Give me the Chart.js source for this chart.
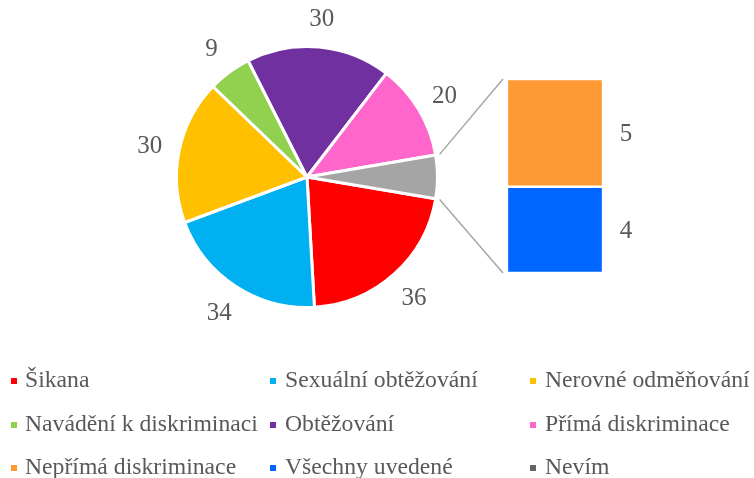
<!DOCTYPE html>
<html>
<head>
<meta charset="utf-8">
<script src="https://cdn.jsdelivr.net/npm/chart.js@4/dist/chart.umd.min.js"></script>
<style>
  body { margin:0; background:#fff; }
  #wrap { position:relative; width:754px; height:478px; overflow:hidden; font-family:"Liberation Serif","Times New Roman",serif; }
  #pie { position:absolute; left:0; top:0; }
  #bar { position:absolute; left:497px; top:69px; }
  .lg { position:absolute; height:24px; line-height:24px; font-size:23.7px; color:#595959; white-space:nowrap; }
  .lg i { position:absolute; width:6px; height:6px; }
</style>
</head>
<body>
<div id="wrap">
  <canvas id="pie" width="754" height="478"></canvas>
  <canvas id="bar" width="160" height="213"></canvas>
</div>
<script>
// kategorie (pořadí legendy)
const categories = ['Šikana','Sexuální obtěžování','Nerovné odměňování','Navádění k diskriminaci','Obtěžování','Přímá diskriminace','Nepřímá diskriminace','Všechny uvedené','Nevím'];
const catColors  = ['#FF0000','#00B0F0','#FFC000','#92D050','#7030A0','#FF66CC','#FF9933','#0066FF','#666666'];

// hlavní koláč (poslední výseč = součet sloupce vpravo)
const pieLabels = ['Šikana','Sexuální obtěžování','Nerovné odměňování','Navádění k diskriminaci','Obtěžování','Přímá diskriminace','Ostatní'];
const barLabels = ['Všechny uvedené','Nepřímá diskriminace'];
const barValues = [4, 5];
const pieValues = [36, 34, 30, 9, 30, 20, barValues[0] + barValues[1]];
const pieColors = ['#FF0000','#00B0F0','#FFC000','#92D050','#7030A0','#FF66CC','#A5A5A5'];
const barColors = ['#0066FF','#FF9933'];

const TXT = '#595959';
const FONT = '"Liberation Serif","Times New Roman",serif';

// legenda 3x3
const colX = [11, 270, 530], rowY = [381, 425, 468];
const wrap = document.getElementById('wrap');
categories.forEach((c,i)=>{
  const d = document.createElement('div');
  d.className = 'lg';
  d.style.left = colX[i%3]+'px';
  d.style.top = (rowY[Math.floor(i/3)]-14)+'px';
  d.innerHTML = `<i style="background:${catColors[i]};left:0;top:11px"></i><span style="margin-left:${i%3===0?14:15}px">${c}</span>`;
  wrap.appendChild(d);
});

const barLabelPlugin = {
  id:'barLabels',
  afterDatasetsDraw(chart){
    const ctx = chart.ctx;
    ctx.save();
    ctx.font = '25px '+FONT; ctx.fillStyle = TXT;
    ctx.textAlign = 'center'; ctx.textBaseline = 'middle';
    chart.data.datasets.forEach((ds,i)=>{
      const el = chart.getDatasetMeta(i).data[0];
      ctx.fillText(ds.data[0], el.x + el.width/2 + 23, (el.y + el.base)/2 + 2);
    });
    ctx.restore();
  }
};

const barChart = new Chart(document.getElementById('bar'), {
  type:'bar',
  data:{ labels:[''], datasets: barLabels.map((l,i)=>({ label:l, data:[barValues[i]], backgroundColor:barColors[i], borderColor:'#fff', borderWidth:1.5, borderSkipped:false, barPercentage:1, categoryPercentage:1 })) },
  options:{
    responsive:false, animation:false, events:[],
    layout:{ padding:{ left:10, right:54, top:10, bottom:9 } },
    scales:{ x:{ stacked:true, display:false }, y:{ stacked:true, display:false, min:0, max:9 } },
    plugins:{ legend:{display:false}, tooltip:{enabled:false} }
  },
  plugins:[barLabelPlugin]
});

const pieExtras = {
  id:'pieExtras',
  afterDraw(chart){
    const ctx = chart.ctx;
    const arcs = chart.getDatasetMeta(0).data;
    ctx.save();
    // popisky hodnot
    ctx.font = '25px '+FONT; ctx.fillStyle = TXT;
    ctx.textAlign = 'center'; ctx.textBaseline = 'middle';
    arcs.forEach((a,i)=>{
      if (i === arcs.length-1) return;
      const mid = (a.startAngle + a.endAngle)/2, r = a.outerRadius + 30;
      ctx.fillText(pieValues[i], a.x + Math.cos(mid)*r, a.y + Math.sin(mid)*r + 2);
    });
    // spojnice k sloupci
    const g = arcs[arcs.length-1];
    const bm = barChart.canvas;
    const ox = bm.offsetLeft, oy = bm.offsetTop;
    const top = barChart.getDatasetMeta(1).data[0], bot = barChart.getDatasetMeta(0).data[0];
    const bx = ox + top.x - top.width/2 - 4;
    const rr = g.outerRadius + 4;
    ctx.strokeStyle = '#A6A6A6'; ctx.lineWidth = 1.5;
    ctx.beginPath();
    ctx.moveTo(g.x + Math.cos(g.startAngle)*rr, g.y + Math.sin(g.startAngle)*rr);
    ctx.lineTo(bx, oy + top.y);
    ctx.moveTo(g.x + Math.cos(g.endAngle)*rr, g.y + Math.sin(g.endAngle)*rr);
    ctx.lineTo(bx, oy + bot.base);
    ctx.stroke();
    ctx.restore();
  }
};

new Chart(document.getElementById('pie'), {
  type:'pie',
  data:{ labels:pieLabels, datasets:[{ data:pieValues, backgroundColor:pieColors, borderColor:'#fff', borderWidth:3 }] },
  options:{
    responsive:false, animation:false, events:[],
    rotation: 99.6,
    layout:{ padding:{ left:175, right:315, top:45, bottom:169 } },
    plugins:{ legend:{display:false}, tooltip:{enabled:false} }
  },
  plugins:[pieExtras]
});
</script>
</body>
</html>
